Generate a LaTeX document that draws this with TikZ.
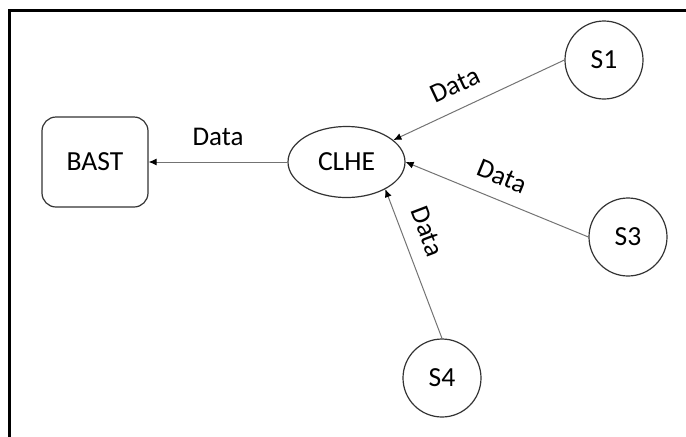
\documentclass[tikz,border=0pt]{standalone}
\usepackage{fontspec}
\setmainfont{Carlito}
\usetikzlibrary{arrows.meta,shapes.geometric}

\begin{document}
\begin{tikzpicture}[x=0.5pt,y=-0.5pt]
        \tikzstyle{box} = [draw=black!80, line width=0.6pt, rounded corners=7pt, minimum width=53pt, minimum height=45pt, font=\fontsize{13.8}{16}\selectfont]
        \tikzstyle{hub} = [draw=black!80, line width=0.6pt, ellipse, minimum width=58.5pt, minimum height=35.5pt, inner sep=0pt, font=\fontsize{13.8}{16}\selectfont]
        \tikzstyle{sensor} = [draw=black!80, line width=0.6pt, circle, minimum size=39pt, inner sep=0pt, font=\fontsize{13.8}{16}\selectfont]
        \tikzstyle{edge} = [-{Latex[length=4pt,width=3.5pt,color=black]}, draw=black!55, line width=0.5pt]
        \tikzstyle{data} = [font=\fontsize{13.5}{16}\selectfont, inner sep=3pt]

        \useasboundingbox (0,0) rectangle (686,436);
        \draw[line width=1.5pt] (9.5,10.5) rectangle (720,470);

        \node[box](bast) at(95, 162) {BAST};
        \node[hub](clhe) at(346.5, 162) {CLHE};
        \node[sensor](s1) at(604, 60) {S1};
        \node[sensor](s3) at(628, 237) {S3};
        \node[sensor](s4) at(442, 378) {S4};

        \draw[edge] (clhe) -- node[data, above=5pt] {Data} (bast);
        \draw[edge] (s1.west) -- node[data, sloped, above=4pt, pos=0.58] {Data} (clhe);
        \draw[edge] (s3.west) -- node[data, sloped, above=4pt, pos=0.52] {Data} (clhe.east);
        \draw[edge] (s4.north) -- node[data, sloped, above=4.5pt, pos=0.66] {Data} (clhe.-35);
    \end{tikzpicture}
\end{document}
